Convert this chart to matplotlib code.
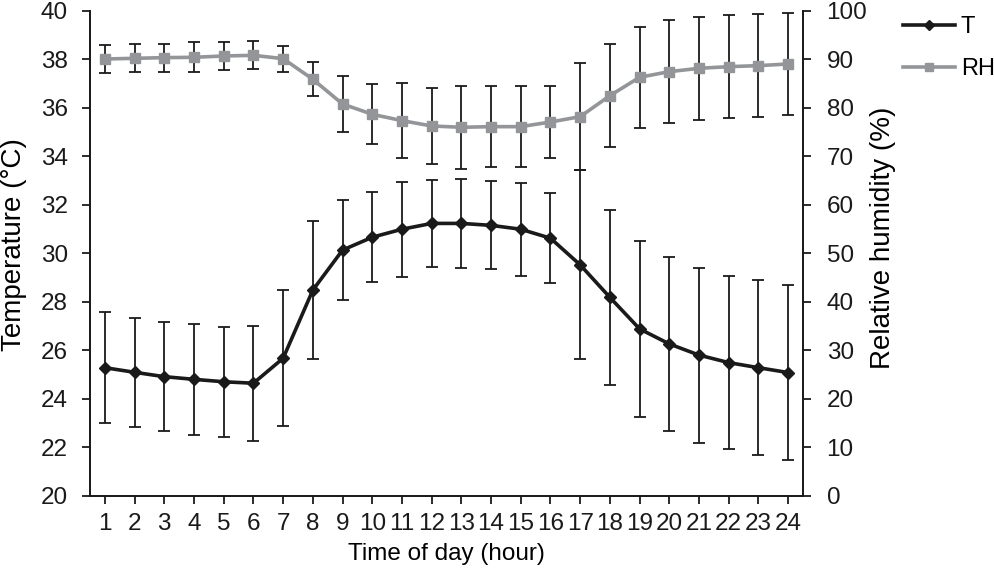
import numpy as np
import matplotlib
matplotlib.use("Agg")
import matplotlib.pyplot as plt

plt.rcParams['font.family'] = ['Liberation Sans', 'DejaVu Sans']

# hourly means and standard deviations
hours = list(range(1, 25))
temp = [25.29, 25.10, 24.92, 24.81, 24.71, 24.65, 25.68, 28.49, 30.14, 30.67,
        31.00, 31.24, 31.24, 31.16, 31.00, 30.63, 29.53, 28.19, 26.89, 26.27,
        25.81, 25.50, 25.29, 25.09]
temp_sd = [2.30, 2.25, 2.26, 2.30, 2.27, 2.37, 2.80, 2.83, 2.06, 1.85,
           1.95, 1.79, 1.83, 1.81, 1.92, 1.85, 3.90, 3.62, 3.63, 3.58,
           3.61, 3.57, 3.60, 3.62]
rh = [90.10, 90.24, 90.38, 90.45, 90.72, 90.86, 90.17, 85.92, 80.82, 78.70,
      77.39, 76.29, 76.02, 76.15, 76.15, 77.11, 78.21, 82.54, 86.33, 87.49,
      88.18, 88.52, 88.73, 89.07]
rh_sd = [2.80, 2.85, 2.90, 3.10, 2.80, 2.90, 2.70, 3.50, 5.80, 6.15,
         7.76, 7.80, 8.60, 8.30, 8.35, 7.45, 11.00, 10.65, 10.45, 10.65,
         10.60, 10.60, 10.65, 10.60]

fig = plt.figure(figsize=(9.95, 5.78), dpi=100)
ax = fig.add_axes([0.0905, 0.1419, 0.7165, 0.8391])
ax2 = ax.twinx()

# error bars first (black), then lines with markers on top
ax.errorbar(hours, temp, yerr=temp_sd, fmt='none', ecolor='#1a1a1a',
            elinewidth=1.3, capsize=4.5, capthick=1.3, zorder=2)
ax2.errorbar(hours, rh, yerr=rh_sd, fmt='none', ecolor='#1a1a1a',
             elinewidth=1.3, capsize=4.5, capthick=1.3, zorder=2)
l1, = ax.plot(hours, temp, color='#1a1a1a', lw=2.6, marker='D', ms=6.5,
              zorder=3, label='T')
l2, = ax2.plot(hours, rh, color='#939598', lw=2.6, marker='s', ms=7.5,
               zorder=3, label='RH')

ax.set_xlim(0.5, 24.5)
ax.set_ylim(20, 40)
ax.set_yticks(np.arange(20, 41, 2))
ax2.set_ylim(0, 100)
ax2.set_yticks(np.arange(0, 101, 10))
ax.set_xticks(hours)

for a in (ax, ax2):
    a.spines['top'].set_visible(False)
    for s in a.spines.values():
        s.set_linewidth(1.3)
        s.set_color('#1a1a1a')
    a.tick_params(direction='out', length=6, width=1.3, labelsize=17.5,
                  colors='#1a1a1a')
ax.tick_params(axis='y', pad=10)
ax2.tick_params(axis='y', pad=11)
ax.tick_params(axis='x', pad=6)

ax.set_xlabel('Time of day (hour)', fontsize=17.5, labelpad=6)
ax.set_ylabel('Temperature (°C)', fontsize=20)
ax2.set_ylabel('Relative humidity (%)', fontsize=20)
ax.yaxis.set_label_coords(-0.088, 0.5175)
ax2.yaxis.set_label_coords(1.094, 0.532)

fig.legend(handles=[l1, l2], loc='upper left', bbox_to_anchor=(0.9075, 0.972),
           frameon=False, fontsize=17, handlelength=2.2, handletextpad=0.25,
           labelspacing=0.86, markerscale=0.75, borderpad=0, borderaxespad=0)

fig.savefig('out.png', dpi=100)
